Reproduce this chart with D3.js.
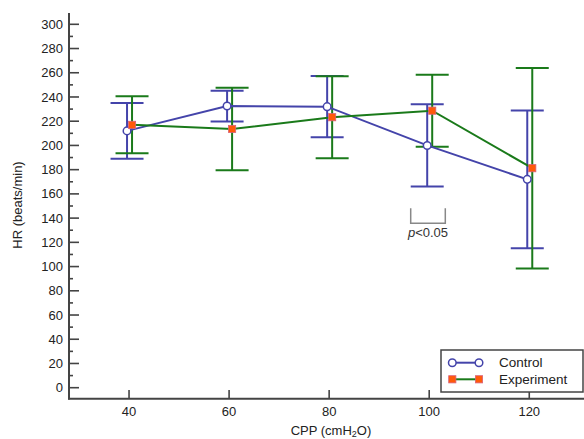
<!DOCTYPE html>
<html><head><meta charset="utf-8">
<script src="https://cdn.jsdelivr.net/npm/d3@7"></script>
<style>body{margin:0;background:#fff;}svg{display:block;font-family:"Liberation Sans",Arial,sans-serif;}</style>
</head><body>
<svg id="c" width="584" height="439"></svg>
<script>
const cpp = [40, 60, 80, 100, 120];
const controlMean = [212, 232.5, 232, 200, 172];
const controlErr  = [23, 12.7, 25.3, 34, 56.8];
const expMean = [217, 213.6, 223.3, 228.7, 181.2];
const expErr  = [23.5, 34, 33.8, 29.7, 82.7];
const yTicks = d3.range(0, 301, 20);
const xTicks = [40, 60, 80, 100, 120];

const svg = d3.select("#c");
const x = d3.scaleLinear().domain([28, 40 + (590 - 129.3) / 5]).range([69, 590]);
const y = d3.scaleLinear().domain([0, 300]).range([387.7, 24.3]);
const axisCol = "#444";
const blue = "#4444aa", green = "#1a7a1a";

// y axis
const yg = svg.append("g").attr("transform", "translate(69,0)");
yg.append("line").attr("y1", 13).attr("y2", 399.5).attr("stroke", axisCol).attr("stroke-width", 2);
yg.selectAll(".mi").data(d3.range(0, 301, 10)).join("line")
  .attr("x1", 0).attr("x2", d => d % 20 === 0 ? 10 : 4)
  .attr("y1", d => y(d)).attr("y2", d => y(d))
  .attr("stroke", axisCol).attr("stroke-width", 1.6);
yg.selectAll("text").data(yTicks).join("text")
  .attr("x", -6).attr("y", d => y(d)).attr("dy", "0.35em")
  .attr("text-anchor", "end").attr("font-size", 13).attr("fill", "#222").text(d => d);

// x axis
const xg = svg.append("g");
xg.append("line").attr("x1", 68).attr("x2", 590).attr("y1", 398.7).attr("y2", 398.7)
  .attr("stroke", axisCol).attr("stroke-width", 2);
xg.selectAll(".t").data(xTicks).join("line")
  .attr("x1", d => x(d)).attr("x2", d => x(d)).attr("y1", 398.7).attr("y2", 390)
  .attr("stroke", axisCol).attr("stroke-width", 1.6);
xg.selectAll("text").data(xTicks).join("text")
  .attr("x", d => x(d)).attr("y", 416).attr("text-anchor", "middle")
  .attr("font-size", 13).attr("fill", "#222").text(d => d);

// axis titles
const xt = svg.append("text").attr("x", 331).attr("y", 435).attr("text-anchor", "middle")
  .attr("font-size", 13).attr("fill", "#222");
xt.append("tspan").text("CPP (cmH");
xt.append("tspan").attr("font-size", 9).attr("dy", 2).text("2");
xt.append("tspan").attr("dy", -2).text("O)");
svg.append("text").attr("transform", "translate(22,205) rotate(-90)")
  .attr("text-anchor", "middle").attr("font-size", 13).attr("fill", "#222").text("HR (beats/min)");

// series
const series = [
  {name: "Control", mean: controlMean, err: controlErr, col: blue, off: -2},
  {name: "Experiment", mean: expMean, err: expErr, col: green, off: 3}
];
const capW = 16.5;
series.forEach(s => {
  const g = svg.append("g");
  cpp.forEach((c, i) => {
    const cx = x(c) + s.off, hi = y(s.mean[i] + s.err[i]), lo = y(s.mean[i] - s.err[i]);
    g.append("line").attr("x1", cx).attr("x2", cx).attr("y1", hi).attr("y2", lo).attr("stroke", s.col).attr("stroke-width", 2);
    [hi, lo].forEach(yy => g.append("line").attr("x1", cx - capW).attr("x2", cx + capW)
      .attr("y1", yy).attr("y2", yy).attr("stroke", s.col).attr("stroke-width", 2));
  });
});
const line = d3.line();
series.forEach(s => {
  svg.append("path").attr("d", line(cpp.map((c, i) => [x(c) + s.off, y(s.mean[i])])))
    .attr("fill", "none").attr("stroke", s.col).attr("stroke-width", 2);
});
// markers
cpp.forEach((c, i) => {
  svg.append("circle").attr("cx", x(c) - 2).attr("cy", y(controlMean[i])).attr("r", 3.8)
    .attr("fill", "#fff").attr("stroke", blue).attr("stroke-width", 1.5);
});
cpp.forEach((c, i) => {
  svg.append("rect").attr("x", x(c) + 3 - 3.6).attr("y", y(expMean[i]) - 3.6).attr("width", 7.2).attr("height", 7.2)
    .attr("fill", "#ff5a0a").attr("stroke", "#d9607a").attr("stroke-width", 0.8);
});

// significance bracket
const br = svg.append("g").attr("stroke", "#888").attr("stroke-width", 1.5).attr("fill", "none");
br.append("path").attr("d", "M410.7,208.3V223.3H445.3V208.3");
const pt = svg.append("text").attr("x", 428).attr("y", 237).attr("text-anchor", "middle")
  .attr("font-size", 13).attr("fill", "#333");
pt.append("tspan").attr("font-style", "italic").text("p");
pt.append("tspan").text("<0.05");

// legend
const lg = svg.append("g");
lg.append("rect").attr("x", 441).attr("y", 350).attr("width", 142).attr("height", 42)
  .attr("fill", "#fff").attr("stroke", "#444").attr("stroke-width", 1.5);
const rows = [{name: "Control", y: 362.7}, {name: "Experiment", y: 379.3}];
lg.append("line").attr("x1", 452.3).attr("x2", 479).attr("y1", rows[0].y).attr("y2", rows[0].y).attr("stroke", blue).attr("stroke-width", 2);
[452.3, 479].forEach(px => lg.append("circle").attr("cx", px).attr("cy", rows[0].y).attr("r", 3.8)
  .attr("fill", "#fff").attr("stroke", blue).attr("stroke-width", 1.5));
lg.append("line").attr("x1", 452.3).attr("x2", 479).attr("y1", rows[1].y).attr("y2", rows[1].y).attr("stroke", green).attr("stroke-width", 2);
[452.3, 479].forEach(px => lg.append("rect").attr("x", px - 3.6).attr("y", rows[1].y - 3.6).attr("width", 7.2).attr("height", 7.2)
  .attr("fill", "#ff5a0a").attr("stroke", "#d9607a").attr("stroke-width", 0.8));
rows.forEach(r => lg.append("text").attr("x", 499).attr("y", r.y).attr("dy", "0.35em")
  .attr("font-size", 13.5).attr("fill", "#222").text(r.name));
</script>
</body></html>
